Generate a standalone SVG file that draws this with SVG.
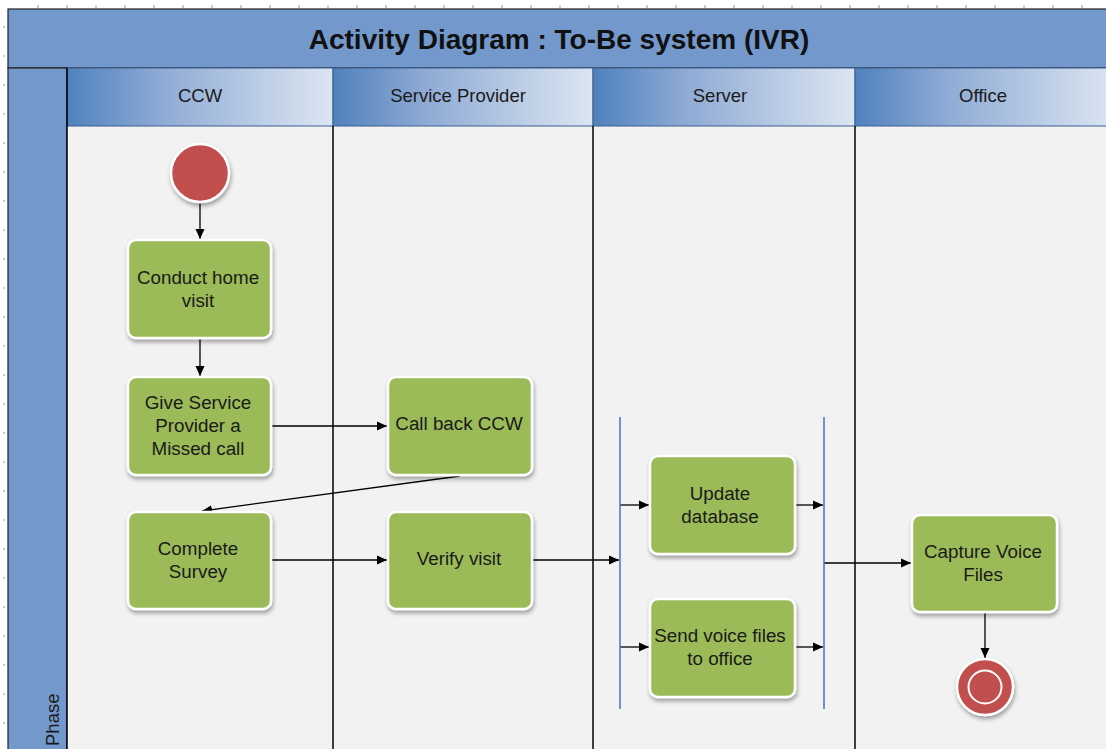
<svg xmlns="http://www.w3.org/2000/svg" width="1106" height="749" viewBox="0 0 1106 749">
  <defs>
    <linearGradient id="hdr" x1="0" y1="0" x2="1" y2="0">
      <stop offset="0" stop-color="#4f81bd"/>
      <stop offset="0.35" stop-color="#8eaad4"/>
      <stop offset="1" stop-color="#dce6f2"/>
    </linearGradient>
    <filter id="shadow" x="-20%" y="-20%" width="140%" height="150%">
      <feDropShadow dx="1" dy="3" stdDeviation="2" flood-color="#000" flood-opacity="0.35"/>
    </filter>
    <marker id="arrow" viewBox="0 0 10 10" refX="10" refY="5" markerWidth="10" markerHeight="10" markerUnits="userSpaceOnUse" orient="auto">
      <path d="M0,0.5 L10,5 L0,9.5 z" fill="#000"/>
    </marker>
  </defs>
  <style>
    .tick { stroke: #999; stroke-width: 1; }
    .lane { fill: #f2f2f2; }
    .divider { stroke: #000; stroke-width: 1.5; }
    .hdr { fill: url(#hdr); stroke: #3a5f8f; stroke-width: 1; }
    .hdrtext { font-family: "Liberation Sans", Arial, sans-serif; font-size: 18.5px; fill: #1a1a1a; text-anchor: middle; }
    .act { fill: #9bbb59; stroke: #fff; stroke-width: 2.5; filter: url(#shadow); }
    .label { font-family: "Liberation Sans", Arial, sans-serif; font-size: 18.8px; fill: #1a1a1a; text-anchor: middle; }
    .flow { stroke: #000; stroke-width: 1.3; fill: none; marker-end: url(#arrow); }
    .bar { stroke: #4472c4; stroke-width: 1.5; }
    .state { fill: #c0504d; stroke: #fff; stroke-width: 2.5; filter: url(#shadow); }
  </style>

  <rect x="0" y="0" width="1106" height="749" fill="#fff"/>

  <!-- rulers -->
  <g id="rulers">
    <path class="tick" d="M38,5v3 M67,5v3 M96,5v3 M125,5v3 M154,5v3 M183,5v3 M212,5v3 M241,5v3 M270,5v3 M299,5v3 M328,5v3 M357,5v3 M386,5v3 M415,5v3 M444,5v3 M473,5v3 M502,5v3 M531,5v3 M560,5v3 M589,5v3 M618,5v3 M647,5v3 M676,5v3 M705,5v3 M734,5v3 M763,5v3 M792,5v3 M821,5v3 M850,5v3 M879,5v3 M908,5v3 M937,5v3 M966,5v3 M995,5v3 M1024,5v3 M1053,5v3 M1082,5v3"/>
    <path class="tick" d="M3,27h2 M3,56h2 M3,85h2 M3,114h2 M3,143h2 M3,172h2 M3,201h2 M3,230h2 M3,259h2 M3,288h2 M3,317h2 M3,346h2 M3,375h2 M3,404h2 M3,433h2 M3,462h2 M3,491h2 M3,520h2 M3,549h2 M3,578h2 M3,607h2 M3,636h2 M3,665h2 M3,694h2 M3,723h2"/>
  </g>

  <!-- pool frame and title -->
  <g id="title">
    <rect x="8" y="9" width="1106" height="59" fill="#7399cc" stroke="#222" stroke-width="1.2"/>
    <text x="559" y="49" font-family="Liberation Sans, Arial, sans-serif" font-size="28" font-weight="bold" fill="#111" text-anchor="middle">Activity Diagram : To-Be system (IVR)</text>
  </g>

  <!-- phase column -->
  <g id="phase">
    <rect x="8" y="68" width="59" height="690" fill="#7399cc" stroke="#222" stroke-width="1.2"/>
    <text transform="translate(59,746) rotate(-90)" font-family="Liberation Sans, Arial, sans-serif" font-size="18.5" fill="#1a1a1a">Phase</text>
  </g>

  <!-- lanes -->
  <g id="lanes">
    <rect class="lane" x="67" y="126" width="1039" height="623"/>
    <rect class="hdr" x="67" y="68" width="266" height="58"/>
    <rect class="hdr" x="333" y="68" width="260" height="58"/>
    <rect class="hdr" x="593" y="68" width="262" height="58"/>
    <rect class="hdr" x="855" y="68" width="260" height="58"/>
    <text class="hdrtext" x="200" y="102">CCW</text>
    <text class="hdrtext" x="458" y="102">Service Provider</text>
    <text class="hdrtext" x="720" y="102">Server</text>
    <text class="hdrtext" x="983" y="102">Office</text>
    <line class="divider" x1="67" y1="68" x2="67" y2="749"/>
    <line class="divider" x1="333" y1="126" x2="333" y2="749"/>
    <line class="divider" x1="593" y1="126" x2="593" y2="749"/>
    <line class="divider" x1="855" y1="126" x2="855" y2="749"/>
  </g>

  <!-- connectors -->
  <g id="connectors">
    <line class="flow" x1="200" y1="203" x2="200" y2="239"/>
    <line class="flow" x1="200" y1="339" x2="200" y2="376"/>
    <line class="flow" x1="272" y1="426" x2="387" y2="426"/>
    <line class="flow" x1="460" y1="476" x2="202" y2="511"/>
    <line class="flow" x1="272" y1="560" x2="387" y2="560"/>
    <line class="flow" x1="533" y1="560" x2="619" y2="560"/>
    <line class="flow" x1="620" y1="505" x2="649" y2="505"/>
    <line class="flow" x1="796" y1="505" x2="823" y2="505"/>
    <line class="flow" x1="620" y1="647" x2="649" y2="647"/>
    <line class="flow" x1="796" y1="647" x2="823" y2="647"/>
    <line class="flow" x1="824" y1="563" x2="911" y2="563"/>
    <line class="flow" x1="985" y1="613" x2="985" y2="658"/>
  </g>

  <!-- fork and join bars -->
  <g id="fork">
    <line class="bar" x1="620" y1="417" x2="620" y2="709"/>
  </g>
  <g id="join">
    <line class="bar" x1="824" y1="417" x2="824" y2="709"/>
  </g>

  <!-- initial state -->
  <g id="start">
    <circle class="state" cx="200" cy="173" r="29"/>
  </g>

  <!-- activities -->
  <g id="conduct-home-visit">
    <rect class="act" x="128" y="240" width="143" height="98" rx="8"/>
    <text class="label" x="198" y="284">Conduct home</text>
    <text class="label" x="198" y="307">visit</text>
  </g>
  <g id="give-missed-call">
    <rect class="act" x="128" y="377" width="143" height="98" rx="8"/>
    <text class="label" x="198" y="409">Give Service</text>
    <text class="label" x="198" y="432">Provider a</text>
    <text class="label" x="198" y="455">Missed call</text>
  </g>
  <g id="call-back-ccw">
    <rect class="act" x="388" y="377" width="144" height="98" rx="8"/>
    <text class="label" x="459" y="430">Call back CCW</text>
  </g>
  <g id="complete-survey">
    <rect class="act" x="128" y="512" width="143" height="97" rx="8"/>
    <text class="label" x="198" y="555">Complete</text>
    <text class="label" x="198" y="578">Survey</text>
  </g>
  <g id="verify-visit">
    <rect class="act" x="388" y="512" width="144" height="97" rx="8"/>
    <text class="label" x="459" y="565">Verify visit</text>
  </g>
  <g id="update-database">
    <rect class="act" x="650" y="456" width="145" height="98" rx="8"/>
    <text class="label" x="720" y="500">Update</text>
    <text class="label" x="720" y="523">database</text>
  </g>
  <g id="send-voice-files">
    <rect class="act" x="650" y="599" width="145" height="98" rx="8"/>
    <text class="label" x="720" y="642">Send voice files</text>
    <text class="label" x="720" y="665">to office</text>
  </g>
  <g id="capture-voice-files">
    <rect class="act" x="912" y="515" width="145" height="97" rx="8"/>
    <text class="label" x="983" y="558">Capture Voice</text>
    <text class="label" x="983" y="581">Files</text>
  </g>

  <!-- final state -->
  <g id="end">
    <circle class="state" cx="985" cy="687" r="28"/>
    <circle cx="985" cy="687" r="16.5" fill="none" stroke="#fff" stroke-width="2"/>
  </g>
</svg>
